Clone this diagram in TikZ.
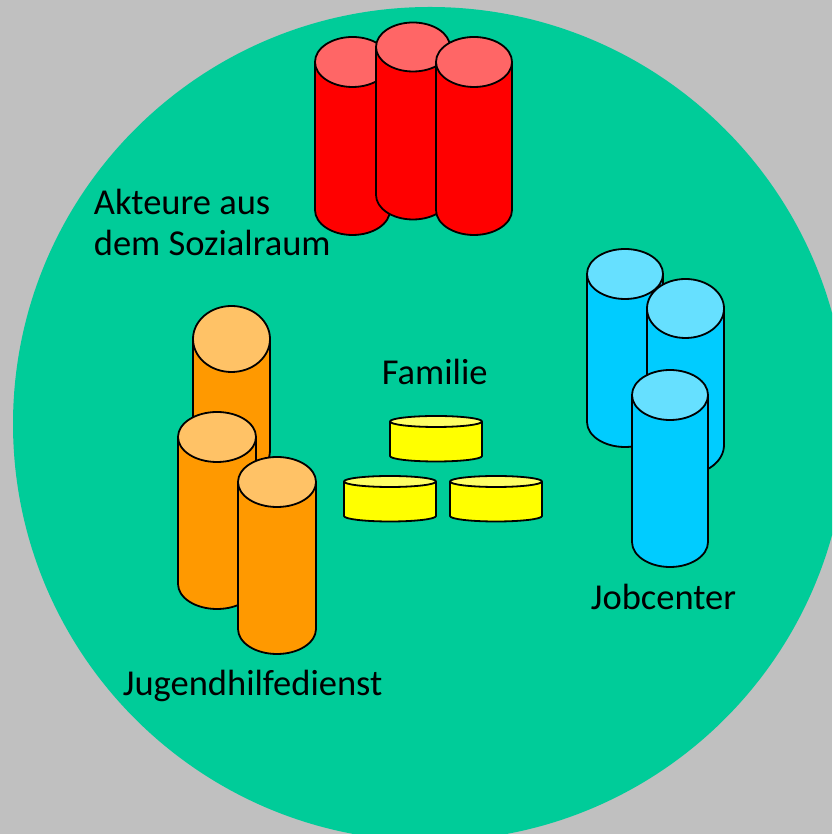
\documentclass[tikz,border=0pt]{standalone}
\usepackage{fontspec}
\setmainfont{Carlito}

\definecolor{hgrau}{HTML}{C0C0C0}
\definecolor{raum}{HTML}{00CC99}
\definecolor{rotK}{HTML}{FF0000}
\definecolor{rotD}{HTML}{FF6666}
\definecolor{orangeK}{HTML}{FF9900}
\definecolor{orangeD}{HTML}{FFC266}
\definecolor{blauK}{HTML}{00CCFF}
\definecolor{blauD}{HTML}{66E0FF}
\definecolor{gelbK}{HTML}{FFFF00}
\definecolor{gelbD}{HTML}{FFFF66}

% #1 x of axis, #2 y bottom centre, #3 y top centre, #4 rx, #5 ry, #6 body colour, #7 lid colour
\newcommand{\zylinder}[7]{%
\filldraw[fill=#6] (#1-#4,#3) -- (#1-#4,#2) arc[start angle=180,end angle=360,x radius=#4,y radius=#5] -- (#1+#4,#3) -- cycle;
\filldraw[fill=#7] (#1,#3) ellipse[x radius=#4,y radius=#5];
}

\begin{document}
\begin{tikzpicture}[x=1pt,y=1pt,line width=1.8pt,line join=round,
  beschriftung/.style={font=\fontsize{36.5}{41}\selectfont,inner sep=0pt,anchor=base west,align=left}]

\useasboundingbox (0,0) rectangle (832,834);
\fill[hgrau] (0,0) rectangle (832,834);

\begin{scope}
\clip (0,0) rectangle (832,834);
\fill[raum] (430,410) circle (417);
\end{scope}

% Akteure aus dem Sozialraum
\begin{scope}
\zylinder{352.5}{624}{772}{37.5}{25}{rotK}{rotD}
\zylinder{413}{639}{787}{37}{24.5}{rotK}{rotD}
\zylinder{474}{624}{772}{38}{25}{rotK}{rotD}
\end{scope}

% Jugendhilfedienst
\begin{scope}
\zylinder{231.5}{384}{495}{38.5}{33}{orangeK}{orangeD}
\zylinder{217}{250}{397}{39}{25}{orangeK}{orangeD}
\zylinder{277}{205}{352}{39}{25}{orangeK}{orangeD}
\end{scope}

% Jobcenter
\begin{scope}
\zylinder{625}{412}{560}{38}{25}{blauK}{blauD}
\zylinder{685.5}{389}{525.5}{38.5}{29.5}{blauK}{blauD}
\zylinder{670}{292}{439}{38}{25}{blauK}{blauD}
\end{scope}

% Familie
\begin{scope}
\zylinder{436}{378}{412.5}{46}{5.5}{gelbK}{gelbD}
\zylinder{390}{318}{352.5}{46}{5.5}{gelbK}{gelbD}
\zylinder{496}{318}{352.5}{46}{5.5}{gelbK}{gelbD}
\end{scope}

% base of a two-line node sits on its last line
\node[beschriftung] (akteure) at (93,578) {Akteure aus\\dem Sozialraum};
\node[beschriftung] (familie) at (381,449) {Familie};
\node[beschriftung] (jobcenter) at (590,224) {Jobcenter};
\node[beschriftung] (jugend) at (122,138) {Jugendhilfedienst};

\end{tikzpicture}
\end{document}
